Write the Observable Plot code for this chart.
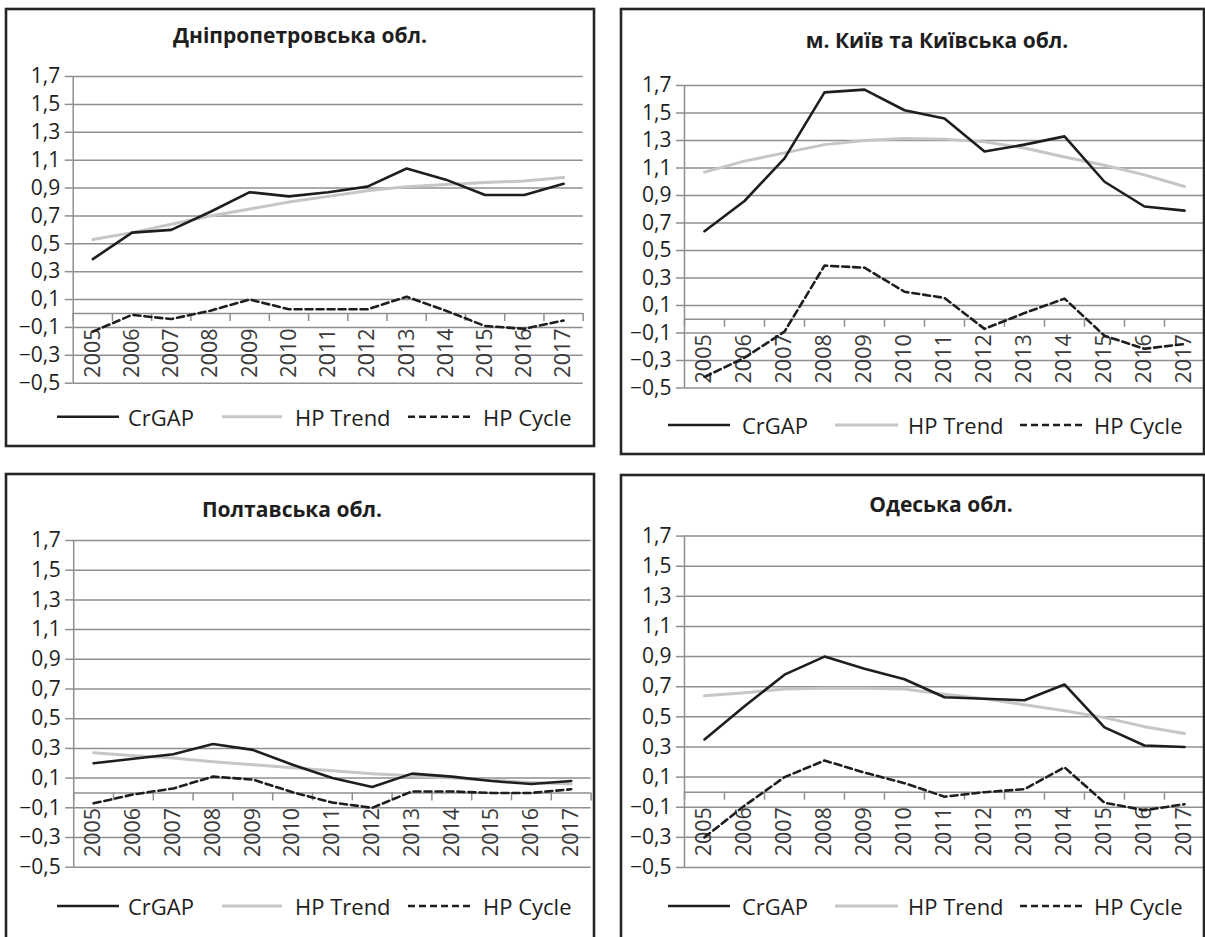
<!DOCTYPE html>
<html><head><meta charset="utf-8">
<script src="https://cdn.jsdelivr.net/npm/d3@7"></script>
<script src="https://cdn.jsdelivr.net/npm/@observablehq/plot@0.6"></script>
<style>
body{margin:0;background:#fff;}
#root{position:relative;width:1205px;height:937px;overflow:hidden;background:#fff;}
#root svg.panel{position:absolute;}
#overlay{position:absolute;left:0;top:0;pointer-events:none;}
</style></head><body><div id="root"></div>
<script>
// ---------- data ----------
const years = ["2005","2006","2007","2008","2009","2010","2011","2012","2013","2014","2015","2016","2017"];
const regions = ["Дніпропетровська обл.", "м. Київ та Київська обл.", "Полтавська обл.", "Одеська обл."];
const seriesNames = ["CrGAP", "HP Trend", "HP Cycle"];
const yTicks = [-0.5, -0.3, -0.1, 0.1, 0.3, 0.5, 0.7, 0.9, 1.1, 1.3, 1.5, 1.7];

const crgapDnipro = [0.39, 0.58, 0.60, 0.73, 0.87, 0.84, 0.87, 0.91, 1.04, 0.96, 0.85, 0.85, 0.93];
const trendDnipro = [0.53, 0.58, 0.64, 0.70, 0.75, 0.80, 0.84, 0.88, 0.91, 0.925, 0.94, 0.95, 0.975];
const cycleDnipro = [-0.13, -0.01, -0.04, 0.02, 0.10, 0.03, 0.03, 0.03, 0.12, 0.02, -0.09, -0.11, -0.05];

const crgapKyiv = [0.64, 0.86, 1.17, 1.65, 1.67, 1.52, 1.46, 1.22, 1.27, 1.33, 1.00, 0.82, 0.79];
const trendKyiv = [1.07, 1.15, 1.21, 1.27, 1.30, 1.315, 1.31, 1.29, 1.245, 1.18, 1.12, 1.05, 0.965];
const cycleKyiv = [-0.42, -0.28, -0.09, 0.39, 0.375, 0.20, 0.155, -0.07, 0.045, 0.15, -0.12, -0.215, -0.18];

const crgapPoltava = [0.20, 0.23, 0.26, 0.33, 0.29, 0.19, 0.10, 0.04, 0.13, 0.11, 0.08, 0.06, 0.08];
const trendPoltava = [0.27, 0.25, 0.235, 0.21, 0.19, 0.17, 0.15, 0.13, 0.115, 0.10, 0.085, 0.07, 0.06];
const cyclePoltava = [-0.07, -0.01, 0.03, 0.11, 0.09, 0.005, -0.065, -0.10, 0.01, 0.01, 0.0, 0.0, 0.025];

const crgapOdesa = [0.35, 0.57, 0.78, 0.90, 0.82, 0.75, 0.63, 0.62, 0.61, 0.715, 0.43, 0.31, 0.30];
const trendOdesa = [0.64, 0.66, 0.685, 0.69, 0.69, 0.685, 0.65, 0.62, 0.58, 0.54, 0.495, 0.435, 0.39];
const cycleOdesa = [-0.30, -0.09, 0.10, 0.21, 0.13, 0.06, -0.03, 0.0, 0.02, 0.165, -0.07, -0.12, -0.08];

const crgapAll = [crgapDnipro, crgapKyiv, crgapPoltava, crgapOdesa];
const trendAll = [trendDnipro, trendKyiv, trendPoltava, trendOdesa];
const cycleAll = [cycleDnipro, cycleKyiv, cyclePoltava, cycleOdesa];

// ---------- layout (page pixels) ----------
const layout = [
  {box:[6,9,594,446],   plotX:[72.7,582.7], plotY:[76,382.7],   title:[300,43],  legY:416.7, col:0},
  {box:[621,9,1204,454],plotX:[684,1204],   plotY:[85,387.5],   title:[937,48],  legY:425,   col:1},
  {box:[6,474,594,960], plotX:[73.2,590.6], plotY:[540,866.7],  title:[292,517], legY:906,   col:0},
  {box:[621,475,1204,960],plotX:[684,1204], plotY:[535.6,867],  title:[941,512], legY:906,   col:1}
];
const legendCols = [
  {lines:[[57,119],[222,282],[408,473]], text:[128,295,483]},
  {lines:[[668,730],[835,898],[1020,1083]], text:[742,908,1094]}
];

const FONT = "'Open Sans', 'Noto Sans', sans-serif";
const GRID = "#8f8f8f";
const DARK = "#1e1e1e";
const TREND = "#c6c6c6";
const fmt = d => (d < 0 ? "\u2212" : "") + Math.abs(d).toFixed(1).replace(".", ",");

const root = document.getElementById("root");

layout.forEach((L, p) => {
  const [bl, bt, br] = L.box;
  const width = br - bl;
  const marginLeft = L.plotX[0] - bl;
  const marginRight = br - L.plotX[1];
  const marginTop = L.plotY[0] - bt;
  const marginBottom = 12;
  const height = (L.plotY[1] - bt) + marginBottom;
  const ppu = (L.plotY[1] - L.plotY[0]) / 2.2;
  const bounds = d3.range(years.length + 1).map(i => i - 0.5);

  const chart = Plot.plot({
    width, height, marginLeft, marginRight, marginTop, marginBottom,
    style: {fontFamily: FONT, background: "transparent", overflow: "visible"},
    x: {domain: [-0.5, years.length - 0.5], axis: null},
    y: {domain: [-0.5, 1.7], axis: null},
    marks: [
      Plot.gridY(yTicks, {stroke: GRID, strokeOpacity: 1, strokeWidth: 1.5}),
      Plot.ruleX([-0.5], {stroke: GRID, strokeWidth: 1.5}),
      Plot.ruleY([0], {stroke: GRID, strokeWidth: 1.5}),
      Plot.ruleX(bounds, {x: d => d, y1: 0, y2: -8 / ppu, stroke: GRID, strokeWidth: 1.5}),
      Plot.axisY(yTicks, {tickFormat: fmt, tickSize: 8, tickPadding: 5, fontSize: 21,
        stroke: GRID, strokeWidth: 1.5, fill: DARK}),
      Plot.text(years, {x: (d, i) => i, y: 0, text: d => d, rotate: -90, textAnchor: "end",
        dy: 15, fontSize: 21.5, fill: "#3a3a3a"}),
      Plot.line(trendAll[p], {x: (d, i) => i, y: d => d, stroke: TREND, strokeWidth: 3}),
      Plot.line(crgapAll[p], {x: (d, i) => i, y: d => d, stroke: DARK, strokeWidth: 2.6}),
      Plot.line(cycleAll[p], {x: (d, i) => i, y: d => d, stroke: DARK, strokeWidth: 2.6,
        strokeDasharray: "7,4"})
    ]
  });
  chart.classList.add("panel");
  chart.style.left = bl + "px";
  chart.style.top = bt + "px";
  root.appendChild(chart);
});

// overlay: frames, titles, legends
const svg = d3.select(root).append("svg").attr("id", "overlay")
  .attr("width", 1205).attr("height", 937).style("font-family", FONT);

layout.forEach((L, p) => {
  const [bl, bt, br, bb] = L.box;
  svg.append("rect").attr("x", bl).attr("y", bt).attr("width", br - bl).attr("height", bb - bt)
    .attr("fill", "none").attr("stroke", "#262626").attr("stroke-width", 2.6);
  svg.append("text").attr("x", L.title[0]).attr("y", L.title[1]).attr("text-anchor", "middle")
    .attr("font-weight", 700).attr("font-size", 21).attr("fill", DARK).text(regions[p]);
  const C = legendCols[L.col];
  seriesNames.forEach((name, k) => {
    const [x1, x2] = C.lines[k];
    svg.append("line").attr("x1", x1).attr("x2", x2).attr("y1", L.legY).attr("y2", L.legY)
      .attr("stroke", k === 1 ? TREND : DARK).attr("stroke-width", k === 1 ? 3 : 2.6)
      .attr("stroke-dasharray", k === 2 ? "7,4" : null);
    svg.append("text").attr("x", C.text[k]).attr("y", L.legY + 9).attr("font-size", 22)
      .attr("fill", DARK).text(name);
  });
});
</script></body></html>
